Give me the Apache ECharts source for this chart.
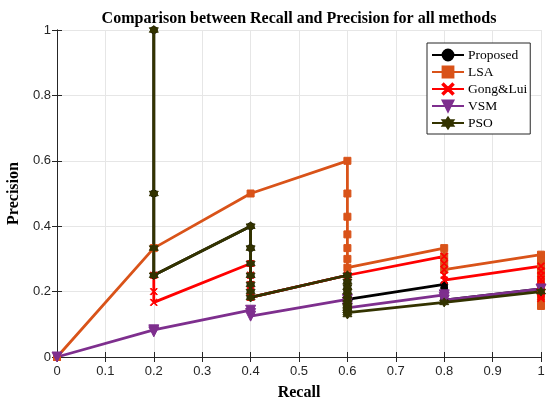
<!DOCTYPE html>
<html>
<head>
<meta charset="utf-8">
<script src="https://cdn.jsdelivr.net/npm/echarts@6/dist/echarts.min.js"></script>
<style>
  html, body { margin: 0; padding: 0; background: #fff; }
  #chart { width: 547px; height: 401px; }
</style>
</head>
<body>
<div id="chart"></div>
<script>
// recall / precision pairs
const proposedRecall = [0.2, 0.2, 0.2, 0.2, 0.4, 0.4, 0.4, 0.4, 0.4, 0.4, 0.4, 0.6, 0.6, 0.6, 0.6, 0.6, 0.6, 0.8, 0.8, 0.8, 0.8, 0.8, 0.8, 1];
const proposedPrecision = [1, 0.5, 0.333, 0.25, 0.4, 0.333, 0.286, 0.25, 0.222, 0.2, 0.182, 0.25, 0.231, 0.214, 0.2, 0.188, 0.176, 0.222, 0.211, 0.2, 0.19, 0.182, 0.174, 0.208];

const lsaRecall = [0, 0, 0.2, 0.4, 0.6, 0.6, 0.6, 0.6, 0.6, 0.6, 0.6, 0.8, 0.8, 0.8, 0.8, 1, 1, 1, 1, 1, 1, 1, 1, 1, 1, 1, 1, 1, 1, 1, 1, 1];
const lsaPrecision = [0, 0, 0.333, 0.5, 0.6, 0.5, 0.429, 0.375, 0.333, 0.3, 0.273, 0.333, 0.308, 0.286, 0.267, 0.313, 0.294, 0.278, 0.263, 0.25, 0.238, 0.227, 0.217, 0.208, 0.2, 0.192, 0.185, 0.179, 0.172, 0.167, 0.161, 0.156];

const gongRecall = [0.2, 0.2, 0.2, 0.4, 0.4, 0.4, 0.4, 0.4, 0.6, 0.8, 0.8, 0.8, 0.8, 0.8, 1, 1, 1, 1, 1, 1, 1, 1, 1, 1, 1];
const gongPrecision = [0.25, 0.2, 0.167, 0.286, 0.25, 0.222, 0.2, 0.182, 0.25, 0.308, 0.286, 0.267, 0.25, 0.235, 0.278, 0.263, 0.25, 0.238, 0.227, 0.217, 0.208, 0.2, 0.192, 0.185, 0.179];

const vsmRecall = [0, 0.2, 0.2, 0.4, 0.4, 0.4, 0.6, 0.6, 0.6, 0.6, 0.8, 0.8, 0.8, 1];
const vsmPrecision = [0, 0.083, 0.077, 0.143, 0.133, 0.125, 0.176, 0.167, 0.158, 0.15, 0.19, 0.182, 0.174, 0.208];

const psoRecall = [0.2, 0.2, 0.2, 0.2, 0.4, 0.4, 0.4, 0.4, 0.4, 0.4, 0.4, 0.6, 0.6, 0.6, 0.6, 0.6, 0.6, 0.6, 0.6, 0.6, 0.6, 0.6, 0.6, 0.8, 1];
const psoPrecision = [1, 0.5, 0.333, 0.25, 0.4, 0.333, 0.286, 0.25, 0.222, 0.2, 0.182, 0.25, 0.231, 0.214, 0.2, 0.188, 0.176, 0.167, 0.158, 0.15, 0.143, 0.136, 0.13, 0.167, 0.2];

const methodNames = ["Proposed", "LSA", "Gong&Lui", "VSM", "PSO"];

function pairs(xs, ys) {
  return xs.map((x, i) => [x, ys[i]]);
}

const crossPath = "path://M0,1 L1,0 L5,4 L9,0 L10,1 L6,5 L10,9 L9,10 L5,6 L1,10 L0,9 L4,5 Z";
const starPath = "path://M10,0 L12.89,5 L18.66,5 L15.77,10 L18.66,15 L12.89,15 L10,20 L7.11,15 L1.34,15 L4.23,10 L1.34,5 L7.11,5 Z";
const downTriangle = "path://M0,0 L10,0 L5,9 Z";

function line(name, data, color, symbol, size) {
  return {
    name: name,
    type: "line",
    data: data,
    xAxisIndex: 0,
    yAxisIndex: 0,
    symbol: symbol,
    symbolSize: size,
    showAllSymbol: true,
    lineStyle: { color: color, width: 2.8 },
    itemStyle: { color: color, borderColor: color, borderWidth: 1 },
    emphasis: { disabled: true },
    animation: false,
  };
}

const tickFont = { fontFamily: "Liberation Sans", fontSize: 13, color: "#262626" };
const serifBold = { fontFamily: "Liberation Serif", fontWeight: "bold", color: "#000" };

let myChart = echarts.init(document.getElementById("chart"));
myChart.setOption({
  animation: false,
  title: {
    text: "Comparison between Recall and Precision for all methods",
    left: 294,
    textAlign: "center",
    top: 6,
    textStyle: Object.assign({ fontSize: 16 }, serifBold),
  },
  grid: { left: 57, right: 6, top: 30, bottom: 44, containLabel: false, outerBoundsMode: "none" },
  legend: {
    data: methodNames,
    orient: "vertical",
    left: 427,
    top: 43,
    padding: [5, 3, 4, 4],
    itemGap: 3,
    itemWidth: 32,
    itemHeight: 13.5,
    borderColor: "#262626",
    borderWidth: 1,
    backgroundColor: "#fff",
    textStyle: { fontFamily: "Liberation Serif", fontSize: 13.5, color: "#000", padding: [0, 0, 0, -1] },
  },
  xAxis: [
    {
      type: "value",
      min: 0,
      max: 1,
      interval: 0.1,
      name: "Recall",
      nameLocation: "middle",
      nameGap: 28,
      nameTextStyle: Object.assign({ fontSize: 16 }, serifBold),
      axisLine: { lineStyle: { color: "#262626", width: 1 } },
      axisTick: { inside: true, length: 5, lineStyle: { color: "#262626" } },
      axisLabel: Object.assign({ margin: 8, formatter: (v) => String(+v.toFixed(1)) }, tickFont),
      splitLine: { show: true, lineStyle: { color: "#e6e6e6", width: 1 } },
    },
    {
      type: "value",
      position: "top",
      min: 0,
      max: 1,
      interval: 0.1,
      axisLine: { show: true, lineStyle: { color: "#262626", width: 1 } },
      axisTick: { show: true, inside: true, length: 5, lineStyle: { color: "#262626" } },
      axisLabel: { show: false },
      splitLine: { show: false },
    },
  ],
  yAxis: [
    {
      type: "value",
      min: 0,
      max: 1,
      interval: 0.2,
      name: "Precision",
      nameLocation: "middle",
      nameGap: 27,
      nameTextStyle: Object.assign({ fontSize: 16 }, serifBold),
      axisLine: { show: true, lineStyle: { color: "#262626", width: 1 } },
      axisTick: { show: true, inside: true, length: 5, lineStyle: { color: "#262626" } },
      axisLabel: Object.assign({ margin: 6, formatter: (v) => String(+v.toFixed(1)) }, tickFont),
      splitLine: { show: true, lineStyle: { color: "#e6e6e6", width: 1 } },
    },
    {
      type: "value",
      position: "right",
      min: 0,
      max: 1,
      interval: 0.2,
      axisLine: { show: true, lineStyle: { color: "#262626", width: 1 } },
      axisTick: { show: true, inside: true, length: 5, lineStyle: { color: "#262626" } },
      axisLabel: { show: false },
      splitLine: { show: false },
    },
  ],
  series: [
    line("Proposed", pairs(proposedRecall, proposedPrecision), "#000000", "circle", 7),
    line("LSA", pairs(lsaRecall, lsaPrecision), "#D95319", "rect", 7),
    line("Gong&Lui", pairs(gongRecall, gongPrecision), "#FF0000", crossPath, 7),
    line("VSM", pairs(vsmRecall, vsmPrecision), "#7E2F8E", downTriangle, 10),
    line("PSO", pairs(psoRecall, psoPrecision), "#333300", starPath, 9),
  ],
});
window.addEventListener("resize", function () {
  myChart.resize();
});
</script>
</body>
</html>
